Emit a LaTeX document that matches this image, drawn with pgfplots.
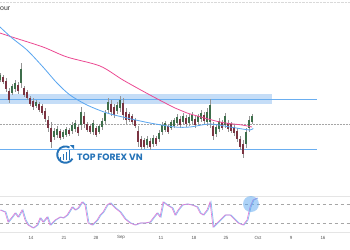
\documentclass[border=0pt]{standalone}
\usepackage{pgfplots}
\pgfplotsset{compat=1.18}
\usepackage{pgfplotstable}
\usepackage{fontspec}
\setmainfont{Liberation Sans}
\newfontfamily\pop{Poppins}
\definecolor{smapink}{HTML}{EC4A93}
\definecolor{smablue}{HTML}{5AA6F0}
\definecolor{lvl}{HTML}{6AAEF0}
\definecolor{band}{HTML}{BBD8F6}
\definecolor{wick}{HTML}{959595}
\definecolor{upc}{HTML}{3E6E4B}
\definecolor{dnc}{HTML}{7A3442}
\definecolor{rsipink}{HTML}{E27AD6}
\definecolor{rsiblue}{HTML}{8EC3F4}
\definecolor{logo}{HTML}{2573B8}
\tikzset{tl/.style={text=black!65, font=\fontsize{4.5}{5}\selectfont, inner sep=0pt}}
\pgfplotstableread{
x t b d
0 73 82 1
3 75 84 0
6 78 92 0
9 88 103 0
12 84 95 1
15 80 92 1
18 82 94 0
21 63 88 1
24 86 97 0
27 90 100 0
30 96 106 0
33 98 110 0
36 100 108 1
39 102 112 0
42 104 115 0
45 108 122 0
48 116 132 0
51 122 148 0
54 128 140 1
57 126 138 1
60 129 140 0
63 130 139 1
66 127 137 1
69 128 136 0
72 122 134 1
75 120 132 1
78 124 136 0
81 107 130 1
84 112 128 0
87 122 132 0
90 124 134 0
93 120 135 1
96 126 137 0
99 124 134 1
102 118 130 1
105 110 124 1
108 98 114 1
111 100 116 0
114 104 118 0
117 102 114 1
120 96 112 1
123 98 120 0
126 108 124 0
129 112 122 0
132 114 124 0
135 118 128 0
138 126 147 0
141 136 150 0
144 138 149 0
147 136 148 1
150 138 150 0
153 135 147 1
156 136 146 0
159 130 142 1
162 122 135 1
165 121 132 1
168 124 134 0
171 120 130 1
174 118 128 1
177 114 126 1
180 116 128 0
183 113 125 1
186 115 127 0
189 114 126 1
192 112 124 1
195 116 128 0
198 114 124 1
201 110 122 1
204 112 124 0
207 108 126 1
210 99 128 1
213 122 140 0
216 124 137 1
219 118 132 1
222 120 130 0
225 113 128 1
228 120 132 0
231 122 133 0
234 124 136 0
237 128 142 0
240 136 150 0
243 140 158 0
246 128 148 1
249 116 132 1
252 114 124 1
}\candles
\pgfplotstableread{
x y
0 210
5 212
8 222
12 217
15 213
18 217
22 210
25 220
28 225
33 228
37 225
40 218
43 222
47 217
50 225
55 220
60 217
63 218
67 215
72 207
75 210
78 208
82 202
85 205
88 223
92 225
97 220
100 215
103 212
107 205
110 203
115 208
120 212
125 219
130 223
135 225
140 223
145 223
150 222
153 218
157 213
160 217
163 202
167 205
172 208
175 215
178 210
182 205
187 204
192 205
197 207
200 213
203 215
207 210
210 202
213 227
217 223
222 218
225 215
230 215
233 218
238 223
243 225
247 220
250 207
253 200
257 198
}\rsi
\begin{document}
\begin{tikzpicture}
\begin{axis}[
  name=ax,
  scale only axis, width=350bp, height=250bp,
  xmin=0, xmax=350, ymin=0, ymax=250, y dir=reverse,
  axis line style={draw=none}, ticks=none,
  axis background/.style={fill=white},
  clip=false, unbounded coords=discard,
]
% frame lines
\addplot[densely dotted, color=black!15, line width=0.4bp] coordinates {(0,2) (350,2)};
\addplot[color=black!10, line width=0.5bp] coordinates {(0,196) (350,196)};
\addplot[color=black!10, line width=0.5bp] coordinates {(0,232) (350,232)};
\addplot[dashed, color=black!35, line width=0.4bp] coordinates {(0,204) (350,204)};
\addplot[dashed, color=black!35, line width=0.4bp] coordinates {(0,223) (350,223)};
% resistance band and levels
\addplot[draw=none, fill=band, fill opacity=0.85] coordinates {(0,94) (272,94) (272,103.5) (0,103.5)} -- cycle;
\addplot[color=lvl, line width=0.8bp] coordinates {(0,99) (317,99)};
\addplot[color=lvl, line width=0.8bp] coordinates {(0,149) (317,149)};
\addplot[densely dotted, color=black!35, line width=0.5bp] coordinates {(0,124) (350,124)};
% candles
\addplot[draw=none, mark=none, forget plot,
  error bars/.cd, y dir=plus, y explicit, error mark=none,
  error bar style={line width=0.45bp, color=wick}]
  table[x=x, y=t, y error expr=\thisrow{b}-\thisrow{t}] {\candles};
\addplot[draw=none, mark=none, forget plot,
  y filter/.expression={\thisrow{d}==1 ? y : nan},
  error bars/.cd, y dir=plus, y explicit, error mark=none,
  error bar style={line width=1.3bp, color=upc}]
  table[x=x, y expr=\thisrow{t}+0.22*(\thisrow{b}-\thisrow{t}), y error expr=0.56*(\thisrow{b}-\thisrow{t})] {\candles};
\addplot[draw=none, mark=none, forget plot,
  y filter/.expression={\thisrow{d}==0 ? y : nan},
  error bars/.cd, y dir=plus, y explicit, error mark=none,
  error bar style={line width=1.3bp, color=dnc}]
  table[x=x, y expr=\thisrow{t}+0.22*(\thisrow{b}-\thisrow{t}), y error expr=0.56*(\thisrow{b}-\thisrow{t})] {\candles};
% moving averages
\addplot[smooth, color=smapink, line width=0.8bp] coordinates {
(0,33) (12,37) (43,47) (67,57) (100,66) (123,80) (150,95) (175,108) (187,113) (220,122) (242,125) (252,127)};
\addplot[smooth, color=smablue, line width=0.8bp] coordinates {
(0,27) (12,38) (27,50) (43,67) (57,83) (70,95) (87,105) (107,113) (127,118) (150,123) (175,127) (190,127) (210,124) (230,127) (250,130) (253,128)};
% RSI
\addplot[color=rsiblue, line width=0.8bp] table[x expr=\thisrow{x}+1, y=y] {\rsi};
\addplot[color=rsipink, line width=0.6bp] table[x=x, y=y] {\rsi};
\draw[fill=smablue, fill opacity=0.5, draw=none] (axis cs:251,204) circle[radius=8bp];
% logo
\draw[logo, line width=1.9bp] (axis cs:69.5,147.5) arc[start angle=60, end angle=330, radius=8.2bp];
\fill[logo] (axis cs:59.5,160) rectangle (axis cs:61,156.5);
\fill[logo] (axis cs:62.5,160) rectangle (axis cs:64,154);
\fill[logo] (axis cs:65.5,160) rectangle (axis cs:67,151.5);
\fill[logo] (axis cs:68.5,160) rectangle (axis cs:70,149.5);
\fill[logo] (axis cs:70,145) -- (axis cs:74,145) -- (axis cs:74,149) -- cycle;
\node[anchor=west, text=logo, font=\pop\bfseries\fontsize{9.2}{10}\selectfont, inner sep=0pt] at (axis cs:77,157) {TOP FOREX VN};
% title fragment
\node[anchor=west, text=black!80, font=\fontsize{7}{8}\selectfont, inner sep=0pt] at (axis cs:0,9) {our};
% x labels
\node[tl] at (axis cs:31,237.5) {14};
\node[tl] at (axis cs:64,237.5) {21};
\node[tl] at (axis cs:96,237.5) {28};
\node[tl] at (axis cs:121,237.5) {Sep};
\node[tl] at (axis cs:161,237.5) {11};
\node[tl] at (axis cs:194,237.5) {18};
\node[tl] at (axis cs:226,237.5) {25};
\node[tl] at (axis cs:258,237.5) {Oct};
\node[tl] at (axis cs:291,237.5) {9};
\node[tl] at (axis cs:323,237.5) {16};
\end{axis}
\pgfresetboundingbox
\useasboundingbox (ax.south west) rectangle (ax.north east);
\end{tikzpicture}
\end{document}
